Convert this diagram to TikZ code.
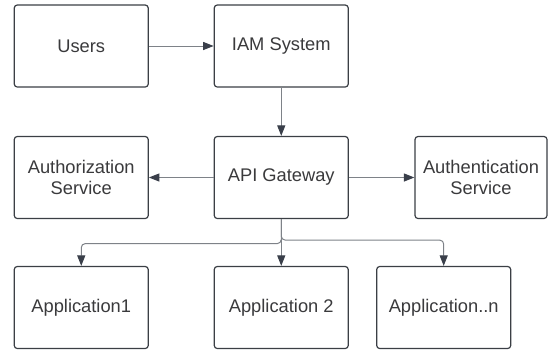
\documentclass[tikz,border=0pt]{standalone}
\usepackage{fontspec}
\setmainfont{Liberation Sans}
\usetikzlibrary{arrows.meta,calc}
\definecolor{boxline}{HTML}{3B3F45}
\definecolor{connline}{HTML}{7E8288}
\definecolor{tipfill}{HTML}{3A3F4A}
\definecolor{txt}{HTML}{3A3A3C}
\tikzset{
  block/.style={draw=boxline, line width=1.2pt, rounded corners=3pt, fill=white,
    minimum width=134pt, minimum height=82pt, inner sep=0pt, align=center,
    text=txt, font=\fontsize{18.3}{20.5}\selectfont},
  conn/.style={draw=connline, line width=1pt, rounded corners=4pt,
    -{Triangle[length=10.5pt,width=8pt,fill=tipfill,color=tipfill]}},
}
\begin{document}
\begin{tikzpicture}[x=1pt,y=-1pt]
  \useasboundingbox (0,0) rectangle (548,349);
  % top row
  \node[block] (users) at (81.25,46) {Users};
  \node[block] (iam)   at (281.25,46) {IAM System};
  % middle row
  \node[block] (authz) at (81.25,177.5) {Authorization\\Service};
  \node[block] (api)   at (281.25,177.5) {API Gateway};
  \node[block, minimum width=132pt] (authn) at (481,177.5) {Authentication\\Service};
  % bottom row
  \node[block] (app1) at (81.25,307.5) {Application1};
  \node[block] (app2) at (281.25,307.5) {Application 2};
  \node[block] (appn) at (443.7,307.5) {Application..n};
  % connectors
  \draw[conn] (users) -- (iam);
  \draw[conn] (iam) -- (api);
  \draw[conn] (api) -- (authz);
  \draw[conn] (api) -- (authn);
  \draw[conn] (api) -- (app2);
  \draw[conn] (api.south) -- ++(0,24.5) -| (app1.north);
  \draw[conn] (api.south) -- ++(0,21) -| (appn.north);
\end{tikzpicture}
\end{document}
